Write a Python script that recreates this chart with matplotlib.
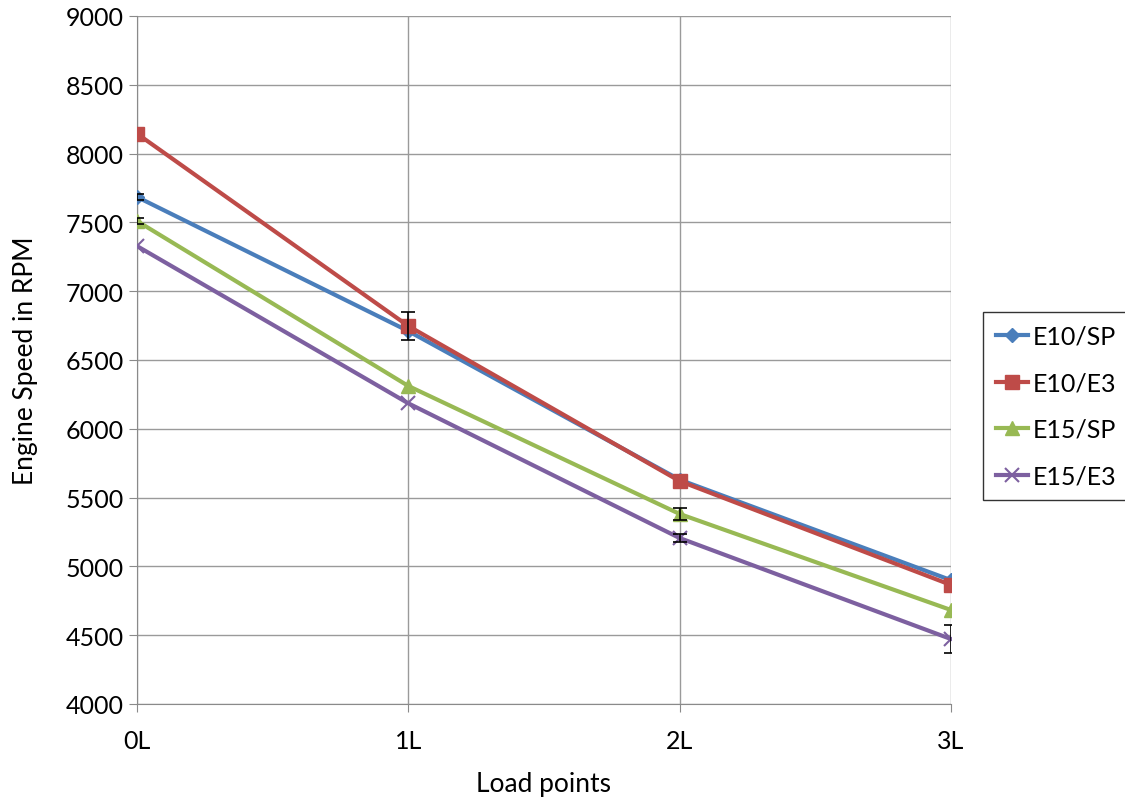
import matplotlib
matplotlib.use("Agg")
import matplotlib.pyplot as plt

load_points = ["0L", "1L", "2L", "3L"]
e10_sp = [7685, 6710, 5630, 4900]
e10_e3 = [8145, 6747, 5620, 4865]
e15_sp = [7510, 6311, 5381, 4683]
e15_e3 = [7328, 6185, 5206, 4472]

e10_sp_err = [20, 0, 0, 0]
e10_e3_err = [0, 100, 0, 0]
e15_sp_err = [20, 0, 45, 0]
e15_e3_err = [0, 0, 30, 100]

plt.rcParams["font.family"] = ["Lato", "DejaVu Sans"]

fig = plt.figure(figsize=(11.25, 8.03), dpi=100)
ax = fig.add_axes([137 / 1125, 1 - 705 / 803, (951 - 137) / 1125, (705 - 17) / 803])

x = list(range(len(load_points)))
series = [
    ("E10/SP", e10_sp, e10_sp_err, "#4A7EBB", "D", 7),
    ("E10/E3", e10_e3, e10_e3_err, "#BE4B48", "s", 10),
    ("E15/SP", e15_sp, e15_sp_err, "#98B954", "^", 10),
    ("E15/E3", e15_e3, e15_e3_err, "#7D60A0", "x", 10),
]

for name, vals, err, col, mk, ms in series:
    ax.plot(x, vals, color=col, lw=3, marker=mk, markersize=ms,
            markeredgewidth=1.5 if mk == "x" else 1, markeredgecolor=col,
            markerfacecolor=col, label=name, zorder=3)
    ex = [xi for xi, e in zip(x, err) if e > 0]
    ey = [v for v, e in zip(vals, err) if e > 0]
    ee = [e for e in err if e > 0]
    if ex:
        ax.errorbar(ex, ey, yerr=ee, fmt="none", ecolor="black", elinewidth=1.2,
                    capsize=5, capthick=1.2, zorder=4)

ax.set_xlim(0, 3)
ax.set_ylim(4000, 9000)
ax.set_yticks(range(4000, 9001, 500))
ax.set_xticks(x)
ax.set_xticklabels(load_points)
ax.grid(True, color="#9a9a9a", lw=1)
ax.set_axisbelow(True)
for s in ax.spines.values():
    s.set_color("#8a8a8a")
ax.spines["top"].set_visible(False)
ax.spines["right"].set_visible(False)
ax.tick_params(axis="both", labelsize=18, colors="#8a8a8a", labelcolor="black",
               length=6, direction="out")
ax.tick_params(axis="x", pad=12)
ax.set_ylabel("Engine Speed in RPM", fontsize=19, labelpad=20)
ax.set_xlabel("Load points", fontsize=19, labelpad=14)

leg = ax.legend(loc="upper left", bbox_to_anchor=(983 / 1125, 1 - 313 / 803),
                bbox_transform=fig.transFigure, fontsize=18, frameon=True,
                fancybox=False, edgecolor="black", handlelength=1.3,
                labelspacing=0.95, borderpad=0.5, handletextpad=0.2,
                borderaxespad=0)
leg.get_frame().set_linewidth(1)

fig.savefig("out.png", dpi=100)
